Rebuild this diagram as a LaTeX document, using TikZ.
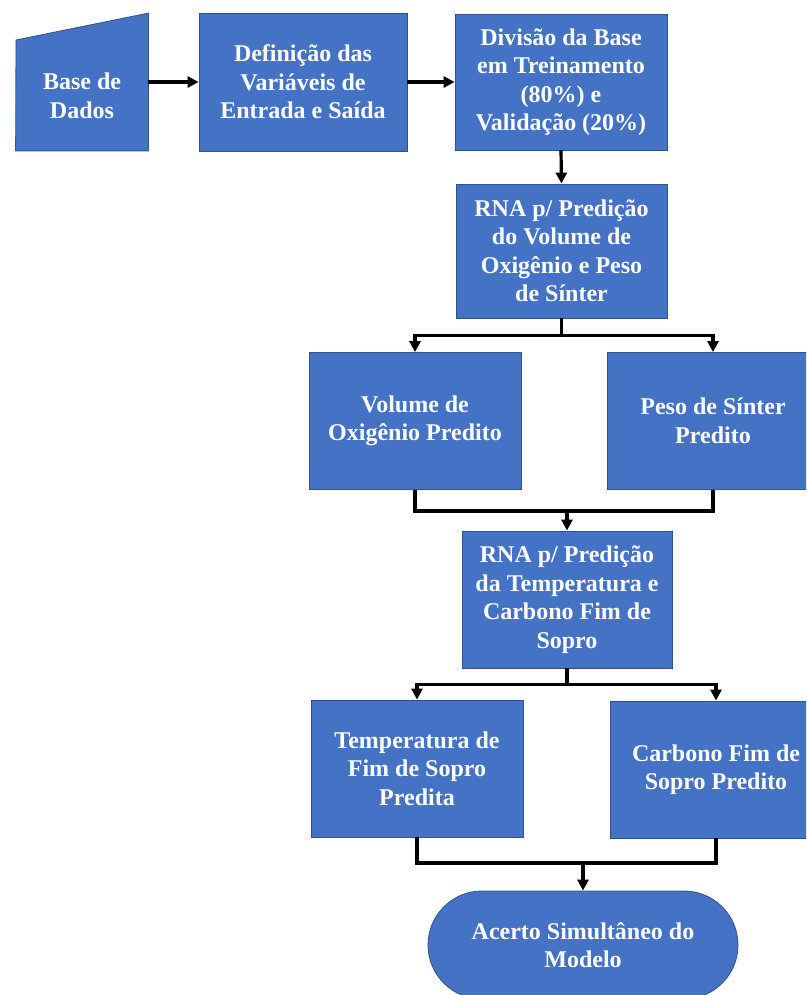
\documentclass[tikz,border=0pt]{standalone}
\usepackage{fontspec}
\setmainfont{Liberation Serif}
\usetikzlibrary{arrows.meta}

\definecolor{boxfill}{HTML}{4472C4}
\definecolor{boxline}{HTML}{2F528F}

\tikzset{
  stepbox/.style={rectangle, fill=boxfill, draw=boxline, line width=0.8pt,
    inner sep=0pt, align=center, text=white,
    font=\fontsize{24}{28.5}\selectfont\bfseries},
  flow/.style={line width=3.2pt, draw=black},
  flowarrow/.style={flow, -{Triangle[length=11pt,width=11pt]}},
}

\begin{document}
\begin{tikzpicture}[x=1pt, y=-1pt]
  \clip (0,0) rectangle (806,995);

  % data input (manual input shape drawn around an invisible node)
  \node[stepbox, fill=none, draw=none, minimum width=132pt, minimum height=137pt] (base) at (82,82) {};
  \fill[boxfill, draw=boxline, line width=0.8pt]
    (base.south west) -- (16,40) -- (base.north east) -- (base.south east) -- cycle;
  \node[stepbox, fill=none, draw=none] (basetxt) at (82,96) {Base de\\Dados};

  \node[stepbox, minimum width=208pt, minimum height=138pt] (def) at (303,82)
    {Definição das\\Variáveis de\\Entrada e Saída};
  \node[stepbox, minimum width=212pt, minimum height=136pt] (div) at (561,82)
    {Divisão da Base\\em Treinamento\\(80\%) e\\Validação (20\%)};
  \node[stepbox, minimum width=211pt, minimum height=134pt] (rna1) at (561.5,251)
    {RNA p/ Predição\\do Volume de\\Oxigênio e Peso\\de Sínter};

  \node[stepbox, minimum width=212pt, minimum height=137pt] (vol) at (415,421)
    {Volume de\\Oxigênio Predito};
  \node[stepbox, minimum width=212pt, minimum height=137pt] (peso) at (713,421)
    {Peso de Sínter\\Predito};

  \node[stepbox, minimum width=210pt, minimum height=137pt] (rna2) at (567,599.5)
    {RNA p/ Predição\\da Temperatura e\\Carbono Fim de\\Sopro};

  \node[stepbox, minimum width=212pt, minimum height=137pt] (temp) at (417,768.5)
    {Temperatura de\\Fim de Sopro\\Predita};
  \node[stepbox, minimum width=212pt, minimum height=137pt] (carb) at (716,769.5)
    {Carbono Fim de\\Sopro Predito};

  \node[stepbox, minimum width=310pt, minimum height=108pt, rounded corners=54pt] (fim) at (583,945)
    {Acerto Simultâneo do\\Modelo};

  % connectors
  \draw[flowarrow] (base.east) -- (def.west);
  \draw[flowarrow] (def.east) -- (div.west);
  \draw[flowarrow] (div.south) -- (rna1.north);

  \draw[flowarrow] (rna1.south) -- ++(0,17) -| (vol.north);
  \draw[flowarrow] (rna1.south) -- ++(0,17) -| (peso.north);

  \coordinate (m1) at (567,511);
  \draw[flow] (vol.south) |- (m1) -| (peso.south);
  \draw[flowarrow] (m1) -- (rna2.north);

  \draw[flowarrow] (rna2.south) -- ++(0,16) -| (temp.north);
  \draw[flowarrow] (rna2.south) -- ++(0,16) -| (carb.north);

  \coordinate (m2) at (583,863);
  \draw[flow] (temp.south) |- (m2) -| (carb.south);
  \draw[flowarrow] (m2) -- (fim.north);
\end{tikzpicture}
\end{document}
